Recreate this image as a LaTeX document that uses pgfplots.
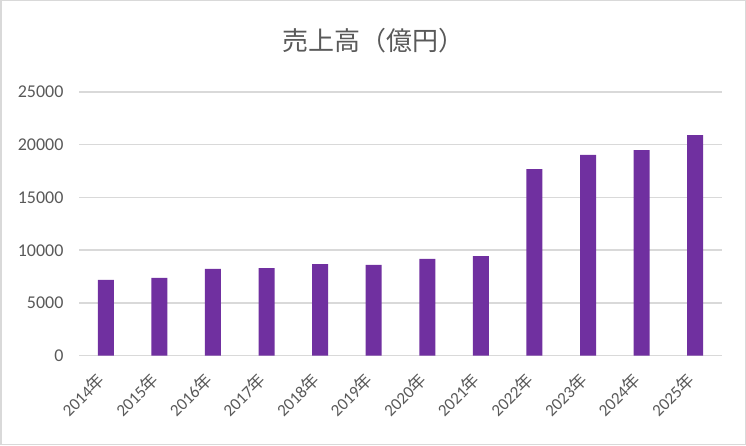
\documentclass[border=0pt]{standalone}
\usepackage{pgfplots}
\pgfplotsset{compat=1.18}
\usepackage{fontspec}
\setmainfont{Carlito}
\newfontfamily\cjk{Noto Sans CJK JP}
\definecolor{barpurple}{HTML}{7030A0}
\definecolor{gridgray}{HTML}{D9D9D9}
\definecolor{textgray}{HTML}{595959}

\begin{document}
\begin{tikzpicture}[x=1pt,y=1pt]
    % outer chart frame
    \draw[gridgray, line width=1.5pt] (0.75,0.75) rectangle (745.25,444.25);
    \node[textgray, font=\cjk\fontsize{26}{30}\selectfont] at (373,404.5) {売上高（億円）};
    \begin{axis}[
            at={(79pt,89.3pt)},
            anchor=south west,
            scale only axis,
            width=643pt,
            height=263.7pt,
            ybar,
            bar width=16pt,
            xmin=-0.5, xmax=11.5,
            ymin=0, ymax=25000,
            ytick={0,5000,10000,15000,20000,25000},
            scaled y ticks=false,
            xtick=data,
            xticklabels={2014{\cjk 年},2015{\cjk 年},2016{\cjk 年},2017{\cjk 年},2018{\cjk 年},2019{\cjk 年},2020{\cjk 年},2021{\cjk 年},2022{\cjk 年},2023{\cjk 年},2024{\cjk 年},2025{\cjk 年}},
            ymajorgrids,
            grid style={gridgray, line width=1.5pt},
            axis line style={draw=none},
            tick style={draw=none},
            /pgf/number format/assume math mode=true,
            yticklabel style={/pgf/number format/fixed, /pgf/number format/1000 sep={}, font=\fontsize{18}{20}\selectfont, text=textgray, xshift=-12pt},
            xticklabel style={font=\fontsize{17}{20}\selectfont, text=textgray, xshift=-2pt, yshift=-14pt, rotate=45, anchor=east},
        ]
        \addplot[fill=barpurple, draw=none] coordinates {
                (0, 7180)
                (1, 7370)
                (2, 8220)
                (3, 8310)
                (4, 8690)
                (5, 8600)
                (6, 9170)
                (7, 9450)
                (8, 17700)
                (9, 19030)
                (10, 19500)
                (11, 20920)
            };
    \end{axis}
\end{tikzpicture}
\end{document}
